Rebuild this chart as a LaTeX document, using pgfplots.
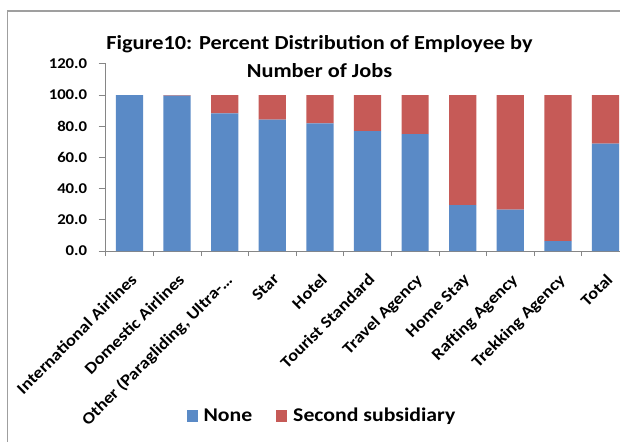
\documentclass[border=0pt]{standalone}
\usepackage{fontspec}
\setmainfont{Carlito}[FakeStretch=1.12]
\usepackage{pgfplots}
\pgfplotsset{compat=1.18}
\definecolor{exblue}{HTML}{5A8AC6}
\definecolor{exred}{HTML}{C65A57}
\definecolor{axgray}{HTML}{868686}
\pgfplotsset{sqlegend/.style={legend image code/.code={\fill[##1] (0bp,-6bp) rectangle (11bp,5.5bp); \path (15bp,0bp);}}}
\begin{document}
\begin{tikzpicture}
\useasboundingbox (-105.7bp,-191bp) rectangle (514.3bp,251bp);
\clip (-105.7bp,-191bp) rectangle (514.3bp,251bp);
\draw[color=gray!75, line width=1.6bp] (-98.2bp,-200bp) -- (-98.2bp,239.7bp) -- (600bp,239.7bp);
\begin{axis}[
  at={(0,0)}, anchor=south west,
  scale only axis, width=523.6bp, height=187.2bp,
  ymin=0, ymax=120, xmin=-0.5, xmax=10.5,
  ybar stacked, bar width=27.2bp,
  axis x line*=bottom, axis y line*=left,
  axis line style={axgray, line width=0.8bp},
  ytick={0,20,...,120},
  xtick={0,...,10},
  xticklabels={International Airlines, Domestic Airlines, {Other (Paragliding, Ultra-…}, Star, Hotel, Tourist Standard, Travel Agency, Home Stay, Rafting Agency, Trekking Agency, Total},
  minor xtick={-0.5,0.5,...,10.5},
  tick align=outside,
  major tick length=7bp, minor tick length=5bp,
  major x tick style={draw=none},
  tick style={axgray, line width=0.8bp},
  /pgf/number format/assume math mode=true,
  yticklabel style={/pgf/number format/fixed, /pgf/number format/fixed zerofill, /pgf/number format/precision=1, font=\fontsize{15}{18}\selectfont\bfseries, xshift=-8bp},
  xticklabel style={xshift=0bp, yshift=-13bp, rotate=45, anchor=north east, inner sep=1pt, font=\fontsize{16.5}{20}\selectfont\bfseries},
  legend columns=2,
  legend style={at={(axis description cs:0.413,-0.88)}, anchor=center, draw=none, fill=none,
    font=\fontsize{19.5}{22}\selectfont\bfseries, /tikz/every even column/.append style={column sep=22bp}},
]
\addplot[fill=exblue, draw=none, sqlegend]
  coordinates {(0,100) (1,99.6) (2,88.2) (3,84.2) (4,81.8) (5,76.9) (6,75.0) (7,29.4) (8,26.6) (9,6.4) (10,68.8)};
\addplot[fill=exred, draw=none, sqlegend]
  coordinates {(0,0) (1,0.4) (2,11.8) (3,15.8) (4,18.2) (5,23.1) (6,25.0) (7,70.6) (8,73.4) (9,93.6) (10,31.2)};
\legend{None, Second subsidiary}
\end{axis}
\node[anchor=base, font=\fontsize{20}{24}\selectfont\bfseries] at (213.8bp,201bp) {Figure10: Percent Distribution of Employee by};
\node[anchor=base, font=\fontsize{20}{24}\selectfont\bfseries] at (213.8bp,173.5bp) {Number of Jobs};
\end{tikzpicture}
\end{document}
